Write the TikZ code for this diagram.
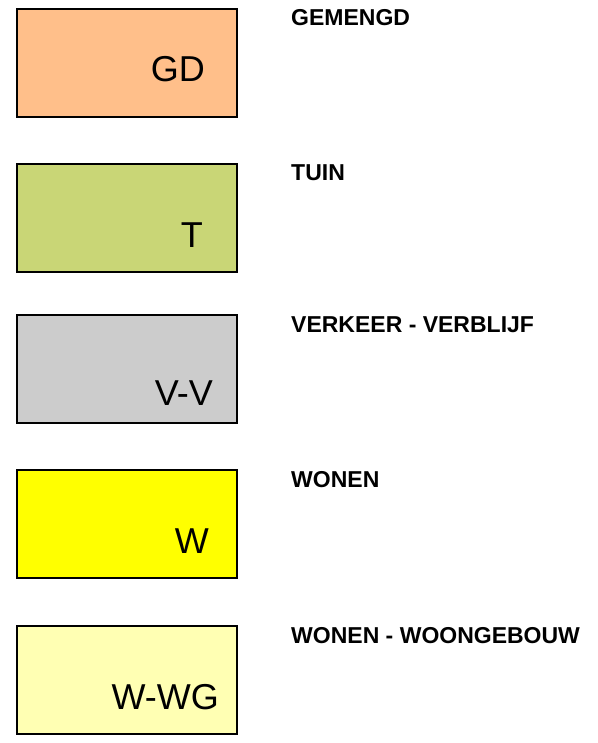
\documentclass[tikz,border=0pt]{standalone}
\usepackage{fontspec}
\setmainfont{Liberation Sans}
\definecolor{gdkleur}{RGB}{255,191,138}
\definecolor{tkleur}{RGB}{201,214,118}
\definecolor{vvkleur}{RGB}{204,204,204}
\definecolor{wkleur}{RGB}{255,255,0}
\definecolor{wwgkleur}{RGB}{255,255,179}
\begin{document}
\begin{tikzpicture}[x=1pt,y=-1pt,
  vak/.style={draw=black,line width=2.2pt,minimum width=220pt,minimum height=108pt,inner sep=0pt},
  code/.style={anchor=base east,inner sep=0pt,font=\fontsize{36}{40}\selectfont},
  naam/.style={anchor=base west,inner sep=0pt,font=\fontsize{23}{26}\selectfont\bfseries}]
\useasboundingbox (0,0) rectangle (597,743);
% gemengd
\node[vak,fill=gdkleur] (gd) at (127,63) {};
\node[code] (gdcode) at (205,82) {GD};
\node[naam] (gdnaam) at (291,26) {GEMENGD};
% tuin
\node[vak,fill=tkleur] (t) at (127,218) {};
\node[code] (tcode) at (203,247) {T};
\node[naam] (tnaam) at (291,181) {TUIN};
% verkeer - verblijf
\node[vak,fill=vvkleur] (vv) at (127,369) {};
\node[code] (vvcode) at (213,405) {V-V};
\node[naam] (vvnaam) at (291,332) {VERKEER - VERBLIJF};
% wonen
\node[vak,fill=wkleur] (w) at (127,524) {};
\node[code] (wcode) at (209,553) {W};
\node[naam] (wnaam) at (291,487) {WONEN};
% wonen - woongebouw
\node[vak,fill=wwgkleur] (wwg) at (127,680) {};
\node[code] (wwgcode) at (219,709) {W-WG};
\node[naam] (wwgnaam) at (291,643) {WONEN - WOONGEBOUW};
\end{tikzpicture}
\end{document}
